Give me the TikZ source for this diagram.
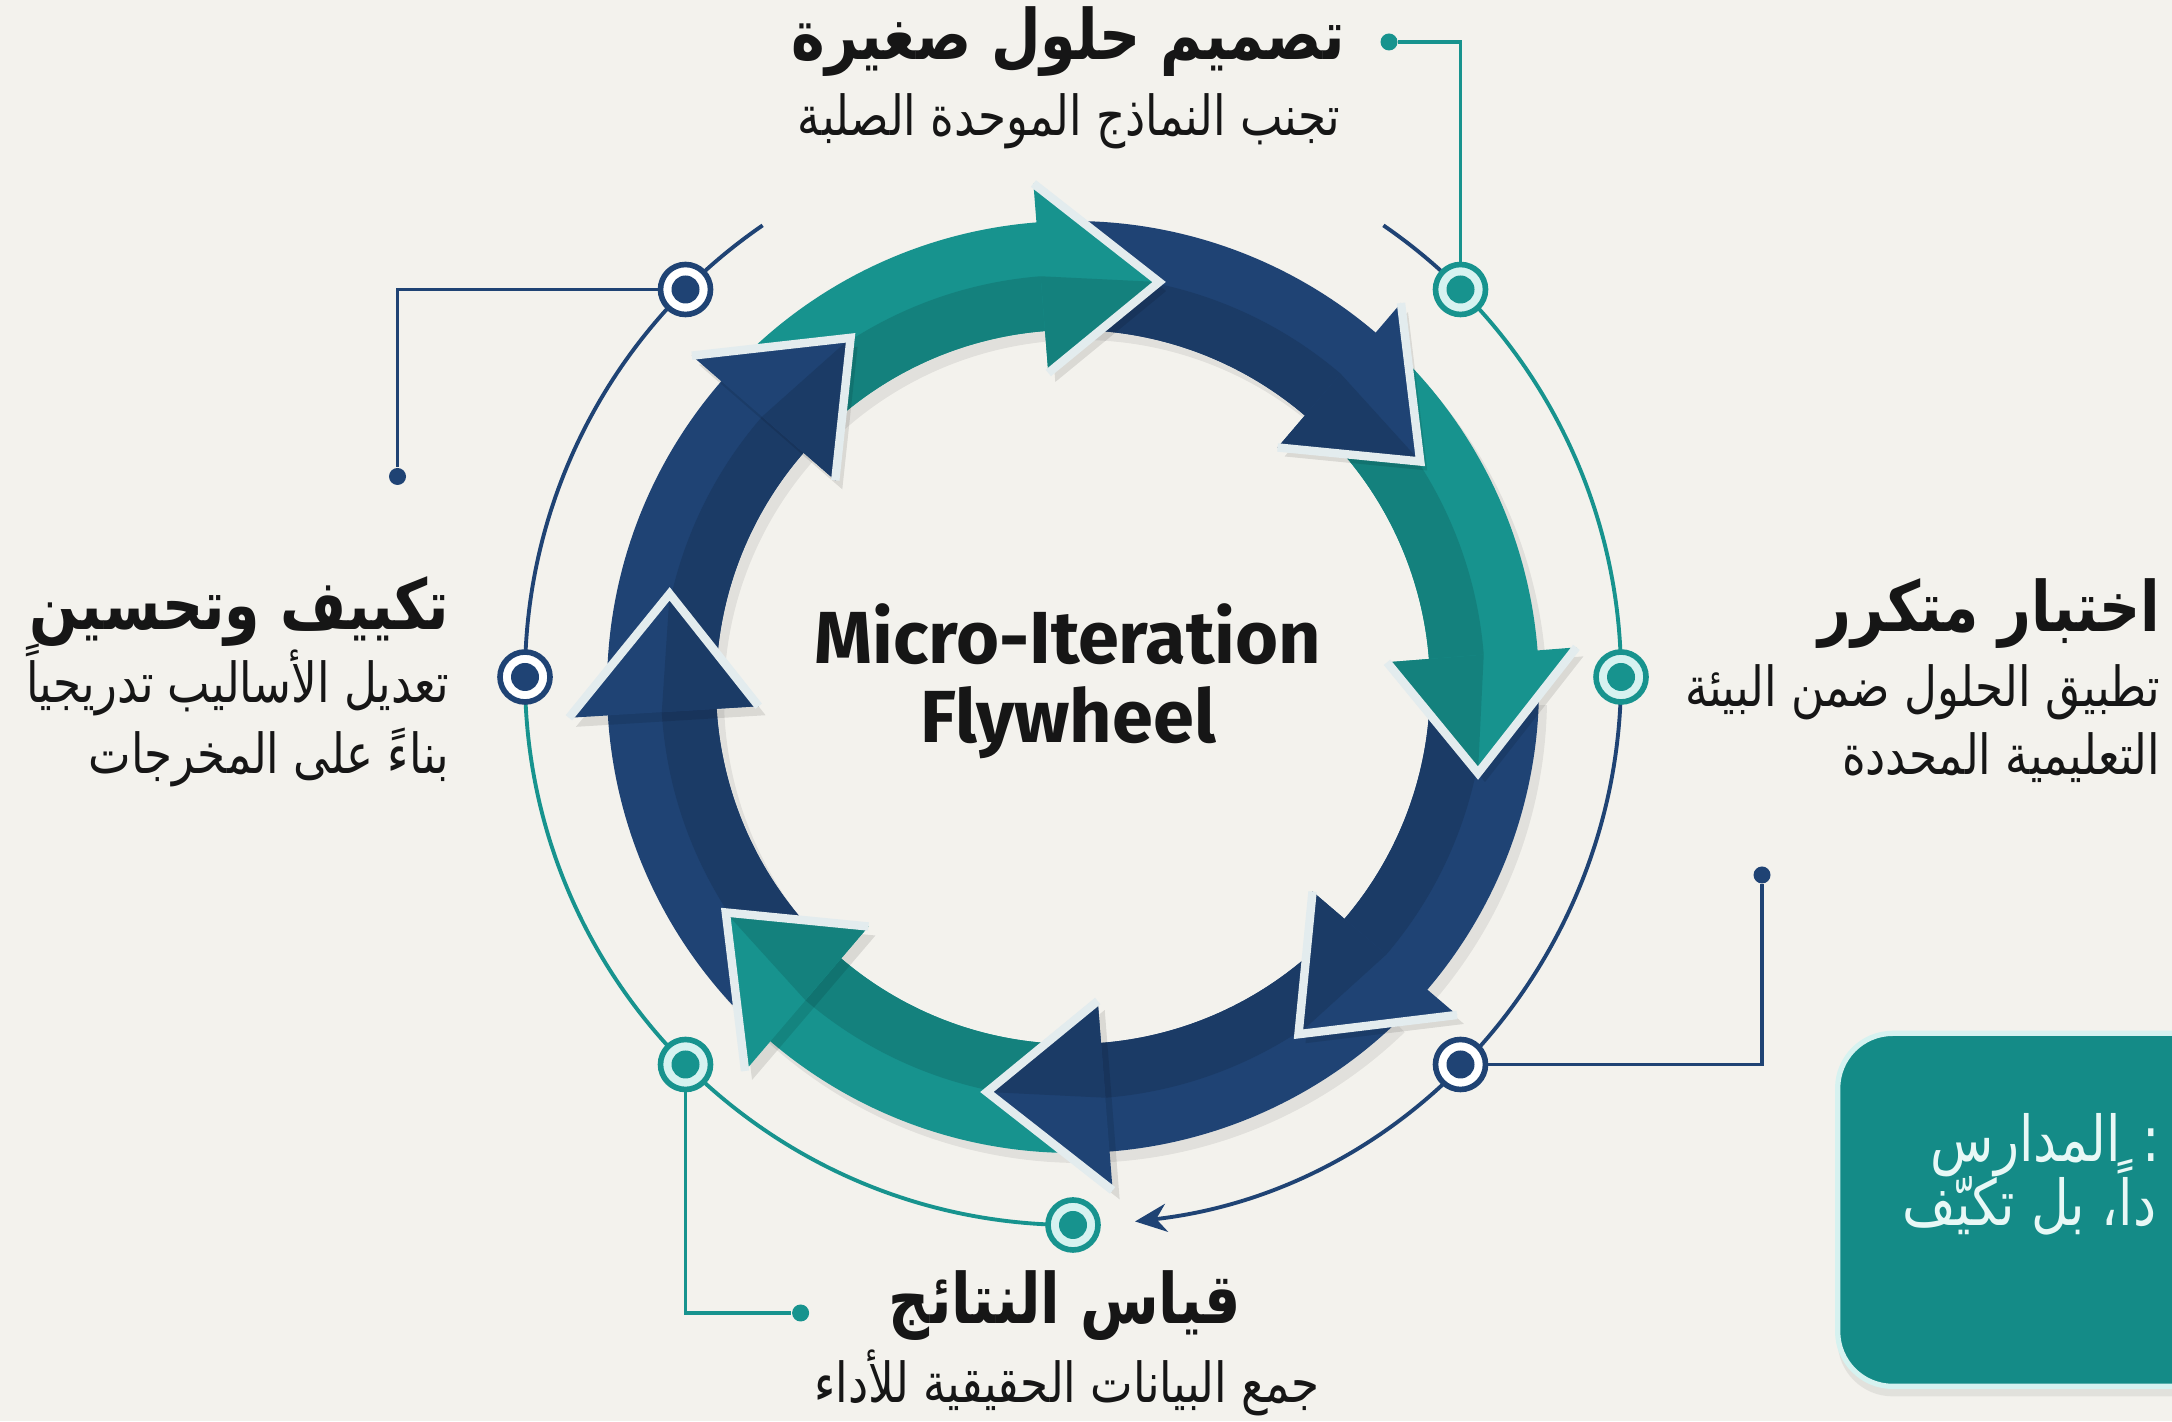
\documentclass[tikz,border=0pt]{standalone}
\usepackage{fontspec}
\setsansfont{Fira Sans}
\newfontfamily\arabicfont[Script=Arabic,FakeStretch=0.82]{DejaVu Sans}
\TeXXeTstate=1
\usetikzlibrary{arrows.meta,shadows,positioning,calc}

\definecolor{paper}{HTML}{F3F2ED}
\definecolor{tealA}{HTML}{17938E}
\definecolor{navyA}{HTML}{1F4374}
\definecolor{rim}{HTML}{E3ECEE}
\definecolor{ink}{HTML}{161616}
\definecolor{cyanlight}{HTML}{D6F2F0}
\definecolor{notefill}{HTML}{148B87}
\definecolor{notetext}{HTML}{E8F8F6}

% body of one wheel arrow, #1 = angle of its tip
\newcommand{\wheelbody}[2]{%
  \fill[black,opacity=.07,shift={(.08,-.1)}] (#1+56:4.66) arc[start angle=#1+56,end angle=#1+15,radius=4.66] -- (#1+15:3.57) arc[start angle=#1+15,end angle=#1+56,radius=3.57] -- cycle;
  \fill[#2] (#1+56:4.66) arc[start angle=#1+56,end angle=#1+15,radius=4.66] -- (#1+15:3.57) arc[start angle=#1+15,end angle=#1+56,radius=3.57] -- cycle;
  \fill[#2!88!black] (#1+56:4.12) arc[start angle=#1+56,end angle=#1+15,radius=4.12] -- (#1+15:3.57) arc[start angle=#1+15,end angle=#1+56,radius=3.57] -- cycle;
}
% head of one wheel arrow
\newcommand{\wheelhead}[2]{%
  \fill[black,opacity=.1,shift={(.07,-.09)}] (#1+16.5:5.05) -- (#1:4.14) -- (#1+16.5:3.15) -- cycle;
  \fill[#2] (#1+16.5:5.05) -- (#1:4.14) -- (#1+16.5:3.15) -- cycle;
  \fill[#2!88!black] (#1+16.5:4.12) -- (#1:4.14) -- (#1+16.5:3.15) -- cycle;
  \draw[rim,line width=2.4pt,line join=miter] (#1+16.5:5.05) -- (#1:4.14) -- (#1+16.5:3.15);
}

\begin{document}
\begin{tikzpicture}[
  title/.style={font=\arabicfont\bfseries\fontsize{19.8}{24}\selectfont, text=ink, inner sep=0pt, text height=15pt, text depth=5pt},
  sub/.style={font=\arabicfont\fontsize{15.7}{19}\selectfont, text=ink, inner sep=0pt, text height=12pt, text depth=4pt},
  notesub/.style={sub, font=\arabicfont\fontsize{18}{21}\selectfont, text=notetext, anchor=west},
  ringdot/.style={circle, line width=1.6pt, minimum size=0.5cm, inner sep=0pt},
  tealdot/.style={ringdot, draw=tealA, fill=cyanlight, path picture={\fill[tealA] (path picture bounding box.center) circle (0.14);}},
  navydot/.style={ringdot, draw=navyA, fill=white, path picture={\fill[navyA] (path picture bounding box.center) circle (0.14);}},
  enddot/.style={circle, inner sep=0pt, minimum size=0.17cm},
  leader/.style={line width=1.1pt}
]

\useasboundingbox (0,0) rectangle (21.72,14.21);
\fill[paper] (0,0) rectangle (21.72,14.21);
\clip (0,0) rectangle (21.72,14.21);

\coordinate (C) at (10.73,7.44);
\coordinate (W) at (10.73,7.34);

% outer circle
\draw[navyA, leader] ($(C)+(124.5:5.48)$) arc[start angle=124.5,end angle=180,radius=5.48];
\draw[tealA, leader] ($(C)+(180:5.48)$) arc[start angle=180,end angle=270,radius=5.48];
\draw[navyA, leader, -{Stealth[length=9pt,width=8pt]}] ($(C)+(0:5.48)$) arc[start angle=0,end angle=-83.5,radius=5.48];
\draw[tealA, leader] ($(C)+(0:5.48)$) arc[start angle=0,end angle=45,radius=5.48];
\draw[navyA, leader] ($(C)+(45:5.48)$) arc[start angle=45,end angle=55.5,radius=5.48];

\node[tealdot] (d45) at ($(C)+(45:5.48)$) {};
\node[tealdot] (d0) at ($(C)+(0:5.48)$) {};
\node[navydot] (d315) at ($(C)+(315:5.48)$) {};
\node[tealdot] (d270) at ($(C)+(270:5.48)$) {};
\node[tealdot] (d225) at ($(C)+(225:5.48)$) {};
\node[navydot] (d180) at ($(C)+(180:5.48)$) {};
\node[navydot] (d135) at ($(C)+(135:5.48)$) {};

% leaders
\node[enddot, fill=tealA] (e1) at (13.89,13.79) {};
\node[enddot, fill=navyA] (e2) at (3.975,9.445) {};
\node[enddot, fill=navyA] (e3) at (17.62,5.46) {};
\node[enddot, fill=tealA] (e4) at (8.006,1.08) {};
\draw[tealA, leader] (d45.north) |- (e1);
\draw[navyA, leader] (d135.west) -| (e2);
\draw[navyA, leader] (d315.east) -| (e3);
\draw[tealA, leader] (d225.south) |- (e4);

% wheel
\begin{scope}[shift={(W)}]
\wheelbody{78}{tealA}
\wheelbody{33}{navyA}
\wheelbody{-12}{tealA}
\wheelbody{-57}{navyA}
\wheelbody{-102}{navyA}
\wheelbody{-147}{tealA}
\wheelbody{167}{navyA}
\wheelbody{122.5}{navyA}
\wheelhead{78}{tealA}
\wheelhead{33}{navyA}
\wheelhead{-12}{tealA}
\wheelhead{-57}{navyA}
\wheelhead{-102}{navyA}
\wheelhead{-147}{tealA}
\wheelhead{167}{navyA}
\wheelhead{122.5}{navyA}
\end{scope}

\node[font=\sffamily\bfseries\fontsize{21}{22.5}\selectfont, text=ink, align=center] (hub) at (10.68,7.40) {Micro-Iteration\\Flywheel};

% labels
\node[title] (t1) at (10.68,13.79) {\beginR تصميم حلول صغيرة\endR};
\node[sub] (s1) at (10.69,13.0) {\beginR تجنب النماذج الموحدة الصلبة\endR};

\node[title, anchor=east] (t2) at (21.61,8.07) {\beginR اختبار متكرر\endR};
\node[sub, anchor=east] (s2a) at (21.61,7.29) {\beginR تطبيق الحلول ضمن البيئة\endR};
\node[sub, anchor=east] (s2b) at (21.61,6.61) {\beginR التعليمية المحددة\endR};

\node[title, anchor=east] (t3) at (4.50,8.09) {\beginR تكييف وتحسين\endR};
\node[sub, anchor=east] (s3a) at (4.50,7.33) {\beginR تعديل الأساليب تدريجياً\endR};
\node[sub, anchor=east] (s3b) at (4.50,6.62) {\beginR بناءً على المخرجات\endR};

\node[title] (t4) at (10.65,1.15) {\beginR قياس النتائج\endR};
\node[sub] (s4) at (10.67,0.33) {\beginR جمع البيانات الحقيقية للأداء\endR};

% note box
\node[draw=cyanlight, line width=1.5pt, fill=notefill, rounded corners=0.55cm, minimum width=4.6cm, minimum height=3.53cm, anchor=south west, drop shadow={opacity=.15, shadow xshift=0, shadow yshift=-.1}] (note) at (18.35,0.32) {};
\node[notesub] (n1) at (19.30,2.74) {\beginR : المدارس\endR};
\node[notesub] (n2) at (19.02,2.10) {\beginR داً، بل تكيّف\endR};

\end{tikzpicture}
\end{document}
